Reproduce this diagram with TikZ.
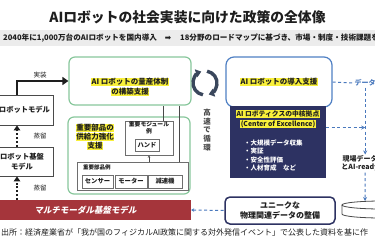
\documentclass[tikz,border=0pt]{standalone}
\usepackage{fontspec}
\setmainfont{Noto Sans CJK JP}
\newfontfamily\symfont{DejaVu Sans}
\usepackage{xcolor}
\usetikzlibrary{positioning,arrows.meta,calc}
\definecolor{ink}{HTML}{1E1E1E}
\definecolor{muted}{HTML}{4A4A4A}
\definecolor{cBand}{HTML}{ECECEC}
\definecolor{cGreen}{HTML}{88C79C}
\definecolor{cBlue}{HTML}{4F80C4}
\definecolor{cNavy}{HTML}{2D3262}
\definecolor{cRed}{HTML}{A5353B}
\definecolor{cMark}{HTML}{F9F03A}
\definecolor{cLink}{HTML}{4A79BD}
\definecolor{cCycle}{HTML}{3A475C}
\newcommand{\hlt}[1]{{\setlength{\fboxsep}{0.7pt}\colorbox{cMark}{#1}}}
\tikzset{
  ttl/.style   = {font=\fontsize{13.8}{16}\selectfont\bfseries, text=ink, inner sep=0pt},
  sub/.style   = {font=\fontsize{7.6}{9}\selectfont\bfseries, text=ink, inner sep=0pt},
  band/.style  = {fill=cBand, draw=none, inner sep=0pt, minimum width=375, minimum height=16},
  frm/.style   = {draw=muted, line width=0.8pt, fill=white, align=center, inner sep=0pt,
                  font=\fontsize{7.3}{9.5}\selectfont\bfseries, text=ink},
  bar/.style   = {fill=cRed, draw=none, text=white, inner sep=0pt,
                  font=\fontsize{8.5}{10}\selectfont\bfseries\addfontfeatures{FakeSlant=0.18}},
  lab/.style   = {font=\fontsize{6.5}{8}\selectfont, text=ink, inner sep=0pt},
  grn/.style   = {draw=cGreen, line width=1.2pt, rounded corners=6pt, fill=white, inner sep=0pt},
  hd/.style    = {align=center, inner sep=0pt, text=ink, font=\fontsize{7.5}{10}\selectfont\bfseries},
  cell/.style  = {draw=muted!80, line width=0.6pt, fill=white, inner sep=0pt, align=center,
                  font=\fontsize{6.3}{7.5}\selectfont\bfseries, text=ink},
  tiny/.style  = {align=center, inner sep=1pt, text=ink, font=\fontsize{5.8}{7}\selectfont\bfseries},
  vlab/.style  = {align=center, inner sep=0pt, text=muted, font=\fontsize{7.5}{8.7}\selectfont\bfseries},
  blu/.style   = {draw=cBlue, line width=1.2pt, rounded corners=8pt, fill=white, inner sep=0pt,
                  text=ink, font=\fontsize{7.5}{10}\selectfont\bfseries},
  nav/.style   = {fill=cNavy, draw=none, inner sep=0pt},
  bul/.style   = {text=white, align=left, inner sep=0pt, font=\fontsize{6.5}{8.3}\selectfont\bfseries},
  uniq/.style  = {draw=cNavy, line width=1.5pt, rounded corners=5pt, fill=white, align=center,
                  inner sep=0pt, text=ink, font=\fontsize{8}{10}\selectfont\bfseries},
  dtx/.style   = {text=cLink, inner sep=1pt, font=\fontsize{7}{9}\selectfont\bfseries},
  fldt/.style  = {align=center, inner sep=1pt, text=ink, font=\fontsize{7}{8}\selectfont\bfseries},
  src/.style   = {inner sep=0pt, text=ink, font=\fontsize{8}{10}\selectfont},
  dlink/.style = {draw=cLink, line width=1pt, dash pattern=on 3pt off 2.5pt},
  dotar/.style = {draw=ink, line width=2pt, dash pattern=on 2pt off 1.8pt,
                  -{Triangle[length=5pt,width=6.5pt]}},
  impl/.style  = {draw=ink, line width=2pt, -{Triangle[length=6pt,width=8pt]}},
  ar/.style    = {draw=muted, line width=0.6pt, -{Stealth[length=2.5pt,width=2.5pt]}},
  ln/.style    = {draw=muted, line width=0.6pt},
  cyc/.style   = {draw=cCycle, line width=3.4pt, -{Triangle[length=5.5pt,width=8pt]}},
  cyl/.style   = {draw=muted, line width=0.8pt, fill=white},
}

\begin{document}
\begin{tikzpicture}[x=1pt,y=-1pt]
  \useasboundingbox (0,0) rectangle (375,250);
  \clip (0,0) rectangle (375,250);
  \fill[white] (0,0) rectangle (375,250);

  % title and goal band
  \node[ttl] (title) at (187.5,17) {AIロボットの社会実装に向けた政策の全体像};
  \node[band] (bnd) at (187.5,38) {};
  \node[sub, anchor=west] (goal) at (3,38) {2040年に1,000万台のAIロボットを国内導入};
  \node[sub] (then) at (168,38) {\symfont ➡};
  \node[sub, anchor=west] (plan) at (180,38) {18分野のロードマップに基づき、市場・制度・技術課題を解};

  % left column
  \node[frm, minimum width=57, minimum height=30] (mdl) at (24.5,110) {ロボットモデル};
  \node[frm, minimum width=62, minimum height=29] (base) at (22,161.5) {ロボット基盤\\モデル};
  \node[bar, minimum width=211, minimum height=20] (mmb) at (85.5,210) {マルチモーダル基盤モデル};
  \coordinate (lx) at (17,0);
  \draw[dotar] (lx |- base.north) -- (lx |- mdl.south);
  \draw[dotar] (lx |- mmb.north) -- (lx |- base.south);
  \node[lab] (dst1) at (40,136) {蒸留};
  \node[lab] (dst2) at (40,188) {蒸留};

  % mass production support
  \node[grn, minimum width=122, minimum height=48] (qtybox) at (130,81) {};
  \node[hd] (qty) at (130,87) {\hlt{AI ロボットの量産体制}\\\hlt{の構築支援}};
  \draw[impl] (lx |- mdl.north) |- (qtybox.west);
  \node[lab] (imp) at (40,75) {実装};

  \node[grn, minimum width=122, minimum height=77] (supbox) at (129,155.5) {};
  \node[hd, font=\fontsize{7.5}{9}\selectfont\bfseries] (sup) at (95,137) {\hlt{重要部品の}\\\hlt{供給力強化}\\\hlt{支援}};
  \node[cell, minimum width=48, minimum height=34] (modbox) at (149,138) {};
  \node[tiny, anchor=north] (modlab) at (modbox.north) {重要モジュール\\例};
  \node[cell, minimum width=24, minimum height=12] (hand) at (147,145) {ハンド};
  \node[cell, minimum width=111, minimum height=28] (partbox) at (132.5,176) {};
  \node[tiny, anchor=west, font=\fontsize{5.5}{7}\selectfont\bfseries] (partlab) at (82,167) {重要部品例};
  \node[cell, minimum width=31, minimum height=13] (sens) at (97.5,181.5) {センサー};
  \node[cell, minimum width=32, minimum height=13] (motr) at (131,181.5) {モーター};
  \node[cell, minimum width=34, minimum height=13] (redu) at (165,181.5) {減速機};
  \draw[ar] (modbox.south |- partbox.north) -- (modbox.south);
  \draw[ln] ($(modbox.north east)+(-10,0)$) coordinate (m1) -- (m1 |- qtybox.south);
  \draw[ln] ($(partbox.north east)+(-9,0)$) coordinate (p1) -- (p1 |- qtybox.south);

  % fast cycle
  \coordinate (cyc) at (205,83);
  \draw[cyc] ([shift={(100:12)}]cyc) arc[start angle=100, end angle=252, radius=12];
  \draw[cyc] ([shift={(280:12)}]cyc) arc[start angle=280, end angle=432, radius=12];
  \node[vlab] (fast) at (207,130) {高\\速\\で\\循\\環};

  % introduction support and centre of excellence
  \node[blu, minimum width=106, minimum height=50] (intro) at (279,82) {\hlt{AI ロボットの導入支援}};
  \node[nav, minimum width=96, minimum height=72] (coe) at (278,142) {};
  \node[hd, font=\fontsize{6.8}{10}\selectfont\bfseries] (coehd) at (278,119)
    {\hlt{AI ロボティクスの中核拠点}\\\hlt{(Center of Excellence)}};
  \node[bul, anchor=west] (coeitems) at (244,155.5) {・大規模データ収集\\・実証\\・安全性評価\\・人材育成　など};

  % unique data and data flow
  \node[uniq, minimum width=110, minimum height=27] (uniq) at (280,210.5) {ユニークな\\物理関連データの整備};
  \draw[dlink, {Stealth[length=3pt,width=3.5pt]}-] (mmb.east) -- (uniq.west);
  \node[dtx, anchor=west] (dtxt) at (353.5,83) {データ};
  \draw[dlink] (intro.east) -- (dtxt.west);
  \node[fldt] (fld) at (360,163.5) {現場データ\\とAI-ready};
  \draw[dlink, -{Stealth[length=4pt,width=4pt]}] (dtxt.south) -- (dtxt.south |- fld.north);
  \coordinate (jn) at ($(coe.north east)!0.3!(coe.south east)$);
  \draw[dlink, -{Stealth[length=4pt,width=4pt]}] (jn) -- (jn -| dtxt.south);
  \coordinate (cyltop) at (365,201);
  \draw[dlink, -{Stealth[length=4pt,width=4pt]}] (dtxt.south |- fld.south) -- (cyltop);
  \draw[cyl] (342,205) -- (342,214) arc[start angle=180, end angle=0, x radius=40, y radius=4] -- (422,205);
  \draw[cyl] (382,205) ellipse[x radius=40, y radius=4];

  % source
  \node[src, anchor=west] (srcnote) at (1,232) {出所：経済産業省が「我が国のフィジカルAI政策に関する対外発信イベント」で公表した資料を基に作};
\end{tikzpicture}
\end{document}
